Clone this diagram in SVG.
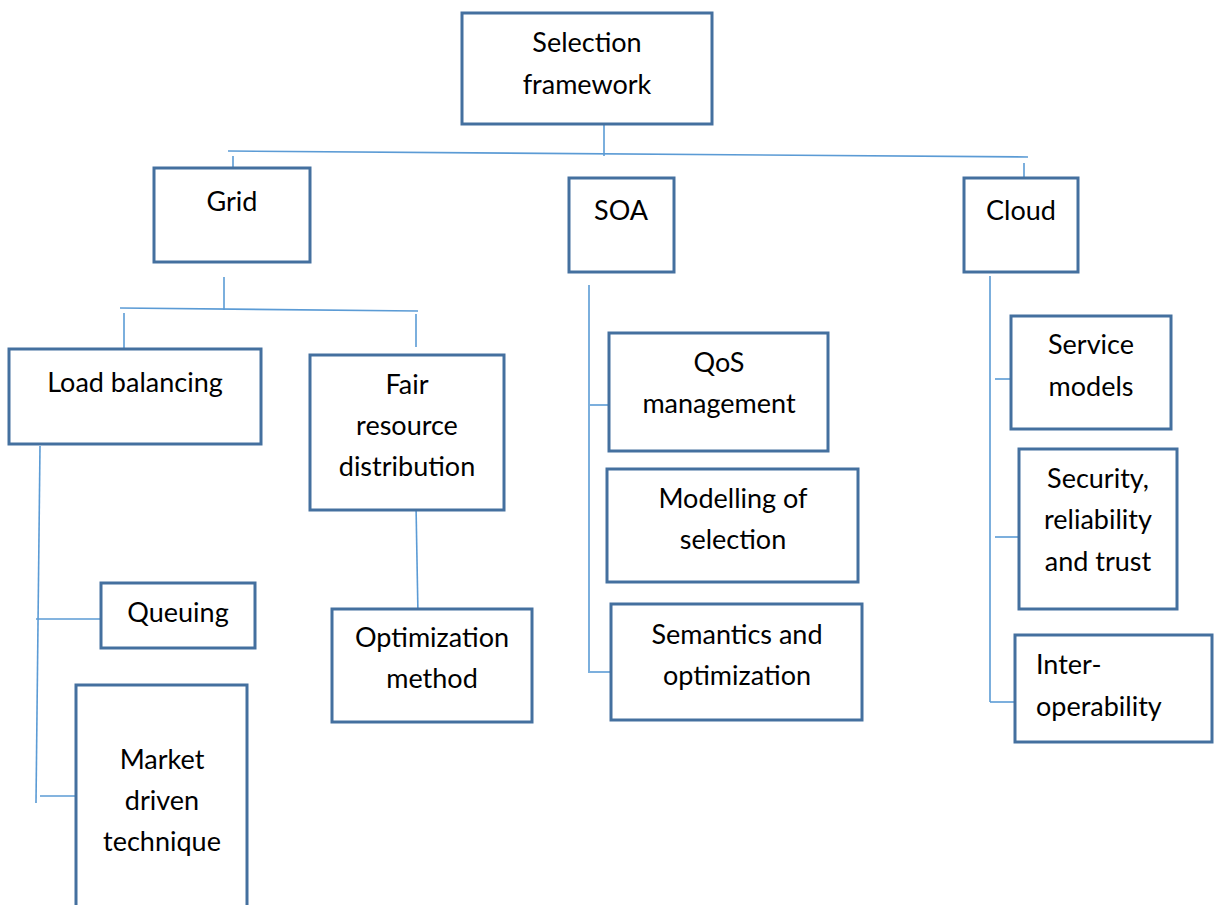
<svg xmlns="http://www.w3.org/2000/svg" width="1219" height="905" viewBox="0 0 1219 905">
  <style>
    .box { fill: #ffffff; stroke: #44709f; stroke-width: 3; }
    .link { fill: none; stroke: #5b9bd5; stroke-width: 1.6; }
    text { font-family: Lato, "Open Sans", sans-serif; font-size: 27px; fill: #000000; text-anchor: middle; }
    text.left { text-anchor: start; }
  </style>
  <rect width="1219" height="905" fill="#ffffff"/>

  <!-- connectors -->
  <g id="connectors">
    <!-- root to the three domains -->
    <line class="link" x1="604" y1="124" x2="604" y2="156"/>
    <line class="link" x1="228" y1="151" x2="1028" y2="157"/>
    <line class="link" x1="233" y1="156" x2="233" y2="170"/>
    <line class="link" x1="1024" y1="163" x2="1024" y2="178"/>
    <!-- Grid branch -->
    <line class="link" x1="224" y1="277" x2="224" y2="310"/>
    <line class="link" x1="120" y1="308" x2="418" y2="311"/>
    <line class="link" x1="124" y1="313" x2="124" y2="355"/>
    <line class="link" x1="416" y1="314" x2="416" y2="347"/>
    <!-- Load balancing children -->
    <line class="link" x1="40" y1="446" x2="36" y2="803"/>
    <line class="link" x1="36" y1="619" x2="103" y2="619"/>
    <line class="link" x1="40" y1="796" x2="79" y2="796"/>
    <!-- Fair resource distribution child -->
    <line class="link" x1="416" y1="505" x2="418" y2="615"/>
    <!-- SOA children -->
    <line class="link" x1="589" y1="285" x2="589" y2="673"/>
    <line class="link" x1="590" y1="405" x2="610" y2="405"/>
    <line class="link" x1="590" y1="672" x2="612" y2="672"/>
    <!-- Cloud children -->
    <line class="link" x1="990" y1="276" x2="990" y2="702"/>
    <line class="link" x1="995" y1="379" x2="1011" y2="379"/>
    <line class="link" x1="995" y1="537" x2="1019" y2="537"/>
    <line class="link" x1="990" y1="702" x2="1016" y2="702"/>
  </g>

  <g id="selection-framework">
    <rect class="box" x="462" y="13" width="250" height="111"/>
    <text x="587" y="52">Selection</text>
    <text x="587" y="94">framework</text>
  </g>

  <g id="grid">
    <rect class="box" x="154" y="168" width="156" height="94"/>
    <text x="232" y="211">Grid</text>
  </g>

  <g id="soa">
    <rect class="box" x="569" y="178" width="105" height="94"/>
    <text x="621" y="220">SOA</text>
  </g>

  <g id="cloud">
    <rect class="box" x="964" y="178" width="114" height="94"/>
    <text x="1021" y="220">Cloud</text>
  </g>

  <g id="load-balancing">
    <rect class="box" x="9" y="349" width="252" height="95"/>
    <text x="135" y="392">Load balancing</text>
  </g>

  <g id="fair-resource-distribution">
    <rect class="box" x="310" y="355" width="194" height="155"/>
    <text x="407" y="394">Fair</text>
    <text x="407" y="435">resource</text>
    <text x="407" y="476">distribution</text>
  </g>

  <g id="queuing">
    <rect class="box" x="101" y="583" width="154" height="65"/>
    <text x="178" y="622">Queuing</text>
  </g>

  <g id="market-driven-technique">
    <rect class="box" x="76" y="685" width="171" height="230"/>
    <text x="162" y="769">Market</text>
    <text x="162" y="810">driven</text>
    <text x="162" y="851">technique</text>
  </g>

  <g id="optimization-method">
    <rect class="box" x="332" y="609" width="200" height="113"/>
    <text x="432" y="647">Optimization</text>
    <text x="432" y="688">method</text>
  </g>

  <g id="qos-management">
    <rect class="box" x="609" y="333" width="219" height="118"/>
    <text x="719" y="372">QoS</text>
    <text x="719" y="413">management</text>
  </g>

  <g id="modelling-of-selection">
    <rect class="box" x="607" y="469" width="251" height="113"/>
    <text x="733" y="508">Modelling of</text>
    <text x="733" y="549">selection</text>
  </g>

  <g id="semantics-and-optimization">
    <rect class="box" x="611" y="604" width="251" height="116"/>
    <text x="737" y="644">Semantics and</text>
    <text x="737" y="685">optimization</text>
  </g>

  <g id="service-models">
    <rect class="box" x="1011" y="316" width="160" height="113"/>
    <text x="1091" y="354">Service</text>
    <text x="1091" y="396">models</text>
  </g>

  <g id="security-reliability-trust">
    <rect class="box" x="1019" y="449" width="158" height="160"/>
    <text x="1098" y="488">Security,</text>
    <text x="1098" y="529">reliability</text>
    <text x="1098" y="571">and trust</text>
  </g>

  <g id="interoperability">
    <rect class="box" x="1015" y="635" width="197" height="107"/>
    <text class="left" x="1036" y="674">Inter-</text>
    <text class="left" x="1036" y="716">operability</text>
  </g>
</svg>
